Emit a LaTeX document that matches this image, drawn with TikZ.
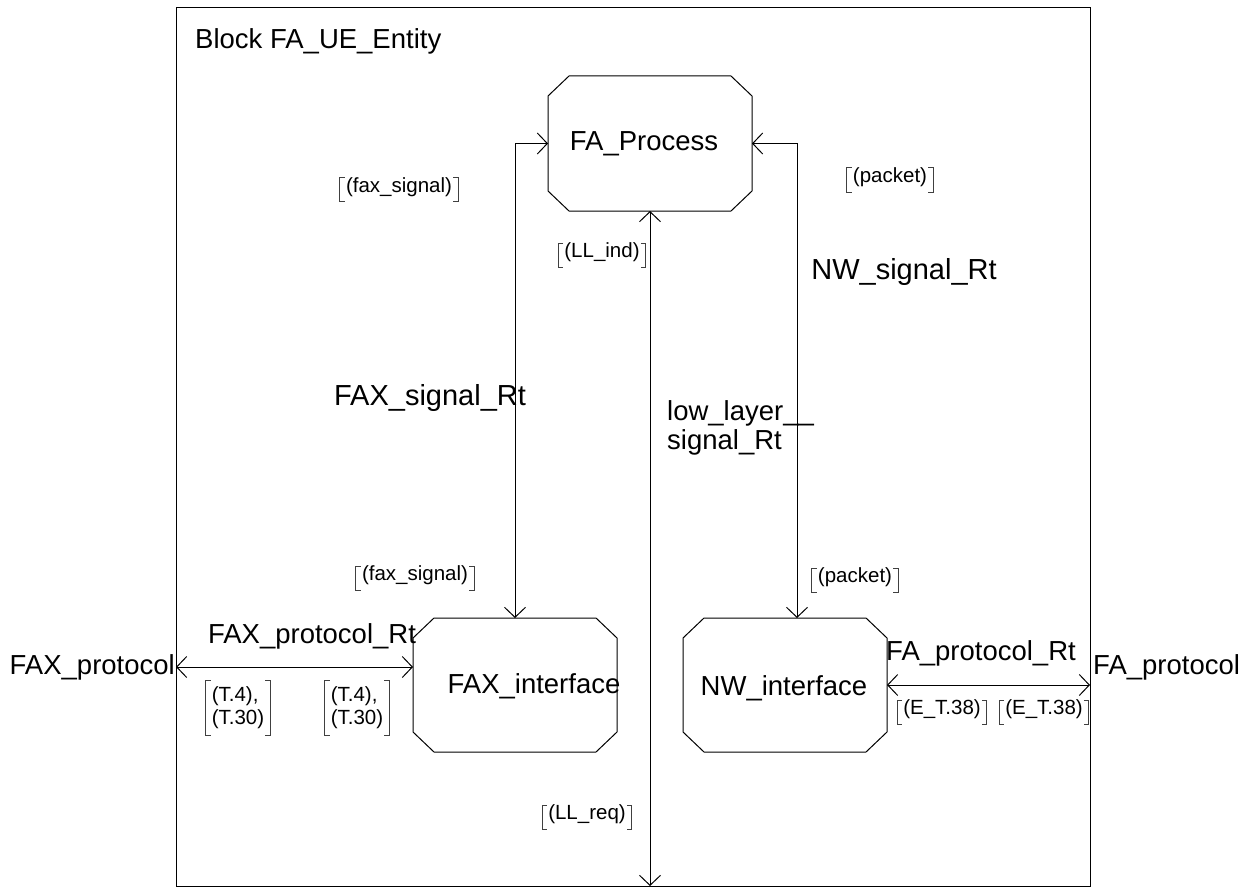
\documentclass[tikz,border=0pt]{standalone}
\usepackage{fontspec}
\setmainfont{Liberation Sans}
\usetikzlibrary{arrows.meta,calc}
\newcommand\octo[1]{\draw[line width=1pt] ([xshift=21pt]#1.north west) -- ([xshift=-21pt]#1.north east) -- ([yshift=-20pt]#1.north east) -- ([yshift=20pt]#1.south east) -- ([xshift=-21pt]#1.south east) -- ([xshift=21pt]#1.south west) -- ([yshift=20pt]#1.south west) -- ([yshift=-20pt]#1.north west) -- cycle;}
\newcommand\brackets[1]{%
 \draw[brk] ([xshift=5pt]#1.north west) -- (#1.north west) -- (#1.south west) -- ([xshift=5pt]#1.south west);
 \draw[brk] ([xshift=-5pt]#1.north east) -- (#1.north east) -- (#1.south east) -- ([xshift=-5pt]#1.south east);}
\newcommand\sigl[3]{\node[sig] (#1) at #2 {#3};\brackets{#1}}
\newcommand\sigll[3]{\node[sigtwo] (#1) at #2 {#3};\brackets{#1}}
\begin{document}
\begin{tikzpicture}[x=1pt,y=-1pt,
  lbl/.style={font=\fontsize{27.5}{29}\selectfont, inner sep=0pt},
  biglbl/.style={font=\fontsize{29}{30}\selectfont, inner sep=0pt},
  sig/.style={font=\fontsize{20.5}{23}\selectfont, inner xsep=6pt, inner ysep=7pt, text height=0.74em, text depth=0.22em},
  sigtwo/.style={font=\fontsize{20.5}{23}\selectfont, inner xsep=6pt, inner ysep=6pt, align=left},
  brk/.style={line width=1pt, draw=black!75},
  conn/.style={line width=1pt, {Straight Barb[length=10pt,width=21pt]}-{Straight Barb[length=10pt,width=21pt]}},
  box/.style={draw=none, minimum width=204pt, minimum height=135pt, inner sep=0pt, outer sep=0pt}]
\useasboundingbox (0,0) rectangle (1248,888);
\fill[white] (0,0) rectangle (1248,888);
% frame
\node[draw, line width=1pt, minimum width=914pt, minimum height=878pt, inner sep=0pt, outer sep=0pt, anchor=north west] (frame) at (176,8) {};
\node[lbl, anchor=west] (title) at (195,41) {Block FA\_UE\_Entity};
% process boxes
\node[box] (fap) at (650,143.5) {};
\octo{fap}
\node[lbl] (faptxt) at (644,144) {FA\_Process};
\node[box, minimum height=134pt] (faxif) at (515,685) {};
\octo{faxif}
\node[lbl] (faxiftxt) at (534,686) {FAX\_interface};
\node[box, minimum height=134pt] (nwif) at (785,685) {};
\octo{nwif}
\node[lbl] (nwiftxt) at (784,688) {NW\_interface};
% connectors
\draw[conn] (fap.west) -| (faxif.north);
\coordinate (nwtop) at ([xshift=12pt]nwif.north);
\draw[conn] (fap.east) -| (nwtop);
\draw[conn] (fap.south) -- (fap.south |- frame.south);
\coordinate (fxp) at ([yshift=18pt]faxif.west);
\draw[conn] (fxp -| frame.west) -- (fxp);
\draw[conn] (nwif.east) -- (nwif.east -| frame.east);
% channel labels
\node[biglbl] (l1) at (430,398) {FAX\_signal\_Rt};
\node[lbl, anchor=west, align=left] (l2) at (667,428) {low\_layer\_\_\\signal\_Rt};
\node[biglbl] (l3) at (904,272) {NW\_signal\_Rt};
\node[lbl] (l4) at (312,636) {FAX\_protocol\_Rt};
\node[lbl] (l5) at (981,653) {FA\_protocol\_Rt};
\node[lbl, anchor=east] (faxenv) at (175,667) {FAX\_protocol};
\node[lbl, anchor=west] (faenv) at (1093,667) {FA\_protocol};
% signal lists
\sigl{s1}{(399,189.5)}{(fax\_signal)}
\sigl{s2}{(415,578)}{(fax\_signal)}
\sigl{s3}{(602,255)}{(LL\_ind)}
\sigl{s4}{(587,817)}{(LL\_req)}
\sigl{s5}{(890,180)}{(packet)}
\sigl{s6}{(855,580)}{(packet)}
\sigll{s7}{(238,708)}{(T.4),\\(T.30)}
\sigll{s8}{(357,708)}{(T.4),\\(T.30)}
\sigl{s9}{(942,712)}{(E\_T.38)}
\sigl{s10}{(1044,712)}{(E\_T.38)}
\end{tikzpicture}
\end{document}
